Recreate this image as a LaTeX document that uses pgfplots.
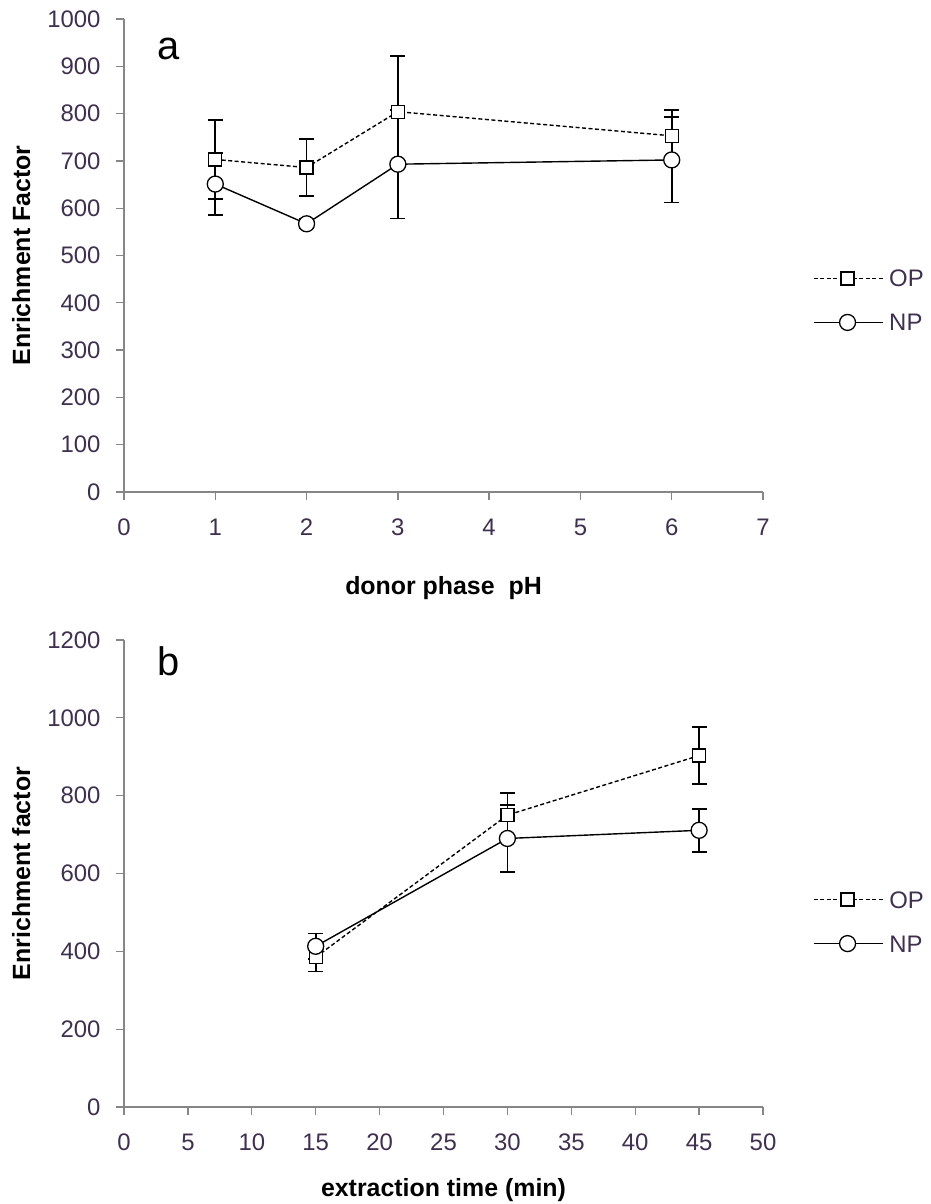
\documentclass[border=0pt]{standalone}
\usepackage{pgfplots}
\pgfplotsset{compat=1.18}
\usepackage{fontspec}
\setmainfont{Liberation Sans}
\definecolor{axgray}{RGB}{134,134,134}
\definecolor{ticktxt}{RGB}{62,48,78}

\pgfplotstableread{
x y e
1 703 83
2 686 60
3 804 118
6 753 55
}\opa
\pgfplotstableread{
x y e
1 651 66
2 567 10
3 693 115
6 702 90
}\npa
\pgfplotstableread{
x y e
15 385 37
30 750 56
45 903 73
}\opb
\pgfplotstableread{
x y e
15 413 33
30 690 87
45 711 55
}\npb

\pgfplotsset{
  mybase/.style={
    scale only axis, width=639bp, anchor=south west, clip=false,
    axis x line*=bottom, axis y line*=left,
    axis line style={axgray, line width=1.3bp},
    tick style={axgray, line width=1.3bp},
    tick align=outside, major tick length=8bp,
    /pgf/number format/assume math mode=true,
    /pgf/number format/1000 sep={},
    ticklabel style={font=\fontsize{24}{28}\selectfont, text=ticktxt},
    xticklabel style={text height=17bp, text depth=0bp, yshift=-15bp},
    yticklabel style={xshift=-12bp},
    label style={font=\fontsize{25}{29}\selectfont\bfseries},
    ylabel style={at={(axis description cs:-0.161,0.5)}, anchor=center, rotate=0},
    legend style={draw=none, fill=none, inner sep=0pt, outer sep=0pt,
      anchor=west, row sep=27bp, column sep=6bp,
      nodes={inner sep=0pt, text height=17bp, text depth=0bp, text=ticktxt,
             font=\fontsize{24}{28}\selectfont}},
    legend cell align=left,
    legend image code/.code={\draw[mark repeat=2, mark phase=2, #1] plot coordinates {(0bp,0bp) (34bp,0bp) (69bp,0bp)};},
  },
  opstyle/.style={black, line width=1.4bp, dash pattern=on 4bp off 2.5bp,
    mark=square*, mark size=6.5bp, mark options={solid, fill=white, line width=1.3bp},
    error bars/.cd, y dir=both, y explicit, error mark options={solid, line width=1.8bp, rotate=90, mark size=7.5bp},
    error bar style={solid, line width=1.8bp}},
  npstyle/.style={black, line width=1.4bp, solid,
    mark=*, mark size=8bp, mark options={solid, fill=white, line width=1.3bp},
    error bars/.cd, y dir=both, y explicit, error mark options={solid, line width=1.8bp, rotate=90, mark size=7.5bp},
    error bar style={solid, line width=1.8bp}},
}

\begin{document}
\begin{tikzpicture}
\useasboundingbox (0,0) rectangle (931bp,1204bp);

\begin{axis}[mybase, at={(124bp,712bp)}, height=473bp,
  xmin=0, xmax=7, ymin=0, ymax=1000,
  xtick={0,1,...,7}, ytick={0,100,...,1000},
  xlabel={donor phase\ \ pH}, ylabel={Enrichment Factor},
  xlabel style={at={(axis description cs:0.5,-0.203)}, anchor=center},
  legend style={at={(axis description cs:1.078,0.405)}},
]
\addplot[opstyle] table[x=x, y=y, y error=e] {\opa};
\addlegendentry{OP}
\addplot[npstyle] table[x=x, y=y, y error=e] {\npa};
\addlegendentry{NP}
\node[font=\fontsize{40}{44}\selectfont, anchor=center] at (axis description cs:0.069,0.937) {a};
\end{axis}

\begin{axis}[mybase, at={(124bp,97bp)}, height=467bp,
  xmin=0, xmax=50, ymin=0, ymax=1200,
  xtick={0,5,...,50}, ytick={0,200,...,1200},
  xlabel={extraction time (min)}, ylabel={Enrichment factor},
  xlabel style={at={(axis description cs:0.5,-0.178)}, anchor=center},
  legend style={at={(axis description cs:1.078,0.397)}},
]
\addplot[opstyle] table[x=x, y=y, y error=e] {\opb};
\addlegendentry{OP}
\addplot[npstyle] table[x=x, y=y, y error=e] {\npb};
\addlegendentry{NP}
\node[font=\fontsize{40}{44}\selectfont, anchor=center] at (axis description cs:0.069,0.955) {b};
\end{axis}
\end{tikzpicture}
\end{document}
